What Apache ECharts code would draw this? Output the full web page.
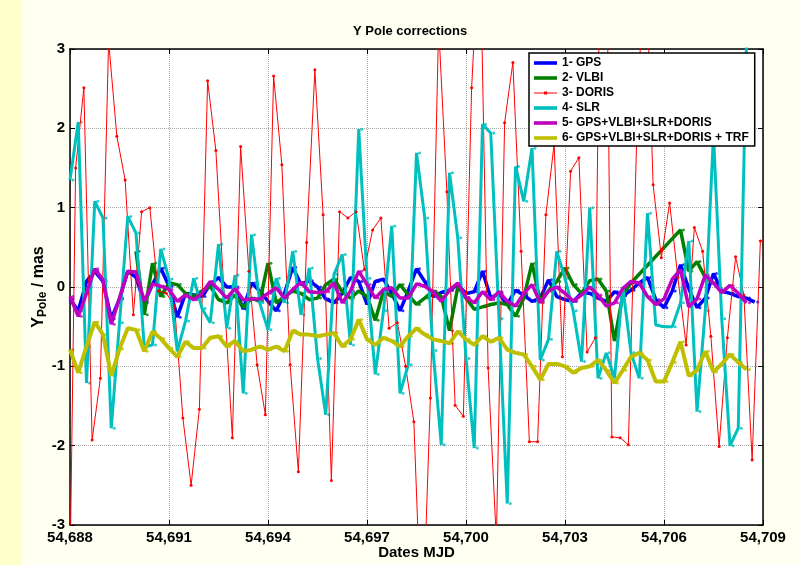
<!DOCTYPE html>
<html><head><meta charset="utf-8">
<script src="https://cdn.jsdelivr.net/npm/echarts@6/dist/echarts.min.js"></script>
<style>
html,body{margin:0;padding:0;width:800px;height:565px;overflow:hidden;}
body{background:linear-gradient(to right,#FFFFCC 0,#FFFFCC 22px,#FFFFF2 22px,#FFFFF2 100%);}
#c{width:800px;height:565px;}
</style></head><body><div id="c"></div>
<script>
// ---- data ----
const MJD0 = 54688;           // first date on the axis
const MJD1 = 54709;           // last date on the axis
const STEP = 0.25;            // 6-hour sampling of the series below
const xTickStep = 3;
const yMin = -3, yMax = 3, yStep = 1;
const seriesNames = ['1- GPS','2- VLBI','3- DORIS','4- SLR','5- GPS+VLBI+SLR+DORIS','6- GPS+VLBI+SLR+DORIS + TRF'];

const gps = [-0.15,-0.30,0.07,0.20,0.07,-0.40,-0.15,0.20,0.12,-0.20,0.03,0.24,0.01,-0.38,-0.08,-0.10,-0.12,0.03,0.12,0.00,0.00,-0.28,
 0.05,-0.05,-0.18,-0.30,-0.08,0.25,0.03,0.08,0.00,-0.15,-0.20,-0.08,0.12,0.07,-0.22,0.07,0.10,-0.08,-0.30,-0.05,
 0.23,0.07,-0.12,-0.07,-0.04,0.03,-0.08,-0.06,0.20,-0.14,-0.08,-0.22,-0.04,-0.10,-0.18,-0.14,0.09,-0.12,-0.16,-0.18,
 -0.08,-0.08,-0.14,-0.18,-0.06,-0.11,-0.04,0.05,0.12,-0.16,-0.26,-0.05,0.28,-0.02,-0.26,-0.14,0.17,-0.05,-0.08,-0.12,-0.14,-0.19];

const vlbi = [null,null,null,null,null,null,null,null,0.45,-0.35,0.30,-0.12,0.05,0.03,-0.08,-0.12,-0.05,0.01,-0.16,-0.20,-0.10,-0.26,
 -0.14,-0.18,0.30,-0.20,-0.12,-0.05,-0.08,-0.16,-0.14,0.03,0.10,-0.06,-0.14,-0.05,-0.12,-0.42,-0.05,-0.12,0.03,-0.10,
 -0.22,-0.14,-0.05,-0.12,-0.55,0.00,-0.14,-0.28,-0.25,-0.22,-0.20,-0.22,-0.37,-0.14,0.30,-0.18,-0.05,0.07,0.24,0.03,
 -0.08,0.08,0.10,-0.05,-0.68,-0.10,0.05,null,null,null,null,null,0.72,0.20,0.32,0.12,0.05,null,null,null,null,null];

const slr = [1.35,2.08,-1.21,1.08,0.87,-1.78,-0.45,0.89,0.68,-0.75,-0.73,0.48,0.10,-0.81,-0.43,0.11,-0.27,-0.45,0.54,-0.52,0.15,-1.34,
 0.66,-0.20,-0.54,0.11,-0.20,0.45,-0.35,0.24,-0.90,-1.61,0.16,0.41,-0.73,1.99,0.11,-1.10,-0.30,0.77,-1.34,-0.98,
 1.69,0.87,-0.80,-1.99,1.44,0.62,-0.90,-2.03,2.05,1.94,-0.40,-2.73,1.52,1.08,1.75,-0.92,-0.66,0.45,0.11,-0.30,
 -0.94,1.00,-1.15,-0.83,-1.15,0.00,-0.83,-1.15,0.93,-0.48,-0.50,-0.50,-0.20,0.58,-1.57,-0.30,1.92,-0.40,-2.00,-1.78,3.10,null];

const combined = [-0.12,-0.37,-0.08,0.23,0.09,-0.47,-0.14,0.20,0.19,-0.18,0.04,0.01,-0.03,-0.18,-0.10,-0.16,-0.08,0.07,-0.03,-0.14,-0.02,-0.16,
 -0.15,-0.15,-0.08,-0.01,-0.14,-0.03,0.06,-0.06,-0.07,-0.06,0.05,-0.20,-0.05,0.20,0.03,-0.14,-0.03,-0.01,-0.14,-0.14,
 0.04,0.01,-0.06,-0.18,-0.04,0.05,-0.13,-0.20,-0.06,-0.16,-0.06,-0.18,-0.24,-0.08,0.03,-0.20,-0.05,0.00,-0.08,-0.18,
 -0.10,0.00,-0.10,-0.24,-0.20,-0.02,0.07,0.05,-0.12,-0.22,-0.15,0.10,0.22,-0.25,-0.15,0.15,0.05,-0.07,0.02,-0.08,-0.20,null];

const trf = [-0.79,-1.08,-0.75,-0.44,-0.60,-1.12,-0.78,-0.52,-0.54,-0.81,-0.56,-0.65,-0.77,-0.88,-0.69,-0.77,-0.77,-0.64,-0.62,-0.75,-0.68,-0.81,
 -0.79,-0.75,-0.79,-0.75,-0.81,-0.55,-0.60,-0.60,-0.62,-0.60,-0.58,-0.75,-0.66,-0.41,-0.66,-0.73,-0.64,-0.68,-0.75,-0.62,
 -0.52,-0.60,-0.66,-0.68,-0.71,-0.56,-0.66,-0.73,-0.62,-0.69,-0.64,-0.79,-0.83,-0.85,-1.00,-1.17,-0.97,-0.97,-1.00,-1.08,
 -1.02,-1.00,-0.92,-1.05,-1.21,-1.05,-0.88,-0.83,-0.92,-1.19,-1.19,-0.95,-0.69,-1.12,-1.05,-0.81,-1.07,-0.97,-0.85,-0.95,-1.04,null];

// DORIS has its own epochs (MJD) and values
const dorisMJD = [54687.92,54688.17,54688.42,54688.67,54688.92,54689.17,54689.42,54689.67,54689.92,54690.17,54690.42,54690.67,54690.92,54691.17,
 54691.42,54691.67,54691.92,54692.17,54692.42,54692.92,54693.17,54693.42,54693.67,54693.92,54694.17,54694.42,54694.67,54694.92,
 54695.17,54695.42,54695.67,54695.92,54696.17,54696.42,54696.67,54696.92,54697.17,54697.42,54697.67,54697.92,54698.17,54698.42,
 54698.67,54698.92,54699.17,54699.42,54699.67,54699.92,54700.17,54700.42,54700.67,54700.92,54701.17,54701.42,54701.67,54701.92,
 54702.17,54702.42,54702.67,54702.92,54703.17,54703.42,54703.67,54703.92,54704.17,54704.42,54704.67,54704.92,54705.17,54705.42,
 54705.67,54705.92,54706.17,54706.42,54706.67,54706.92,54707.17,54707.42,54707.67,54707.92,54708.17,54708.42,54708.67,54708.92,54709.17];
const doris = [-6.0,1.50,2.51,-1.93,-1.15,3.10,1.90,1.35,-0.35,0.95,1.00,-0.05,-0.08,-0.24,
 -1.65,-2.50,-1.54,2.60,1.72,-1.90,1.77,0.20,-0.98,-1.61,2.66,1.54,-0.98,-2.33,
 0.56,2.74,0.91,-2.44,0.95,0.87,0.95,0.22,0.72,0.87,-0.52,-0.45,-1.00,-1.70,
 -4.50,-1.40,3.30,1.20,-1.49,-1.63,2.51,4.50,-1.02,-3.20,2.07,2.83,0.45,-1.95,
 -1.95,0.91,1.80,-0.88,1.46,1.63,-0.82,-0.64,8.00,-1.89,-1.90,-1.99,1.83,4.50,
 1.29,0.37,1.06,0.12,-0.73,0.75,0.45,-0.62,-2.01,-0.64,0.38,-0.10,-2.18,0.58,0.60];

// ---- chart ----
const FONT = '"Liberation Sans", Arial, Helvetica, sans-serif';
const DOT_SHIFT = 0.09;
function onGrid(vals){ const out=[]; vals.forEach((v,i)=>{ if(v!==null) out.push([i*STEP, v]); }); return out; }
function dotsOf(vals){ const out=[]; vals.forEach((v,i)=>{ if(v!==null) out.push([i*STEP+DOT_SHIFT, v]); }); return out; }
function withComma(n){ return String(n).replace(/\B(?=(\d{3})+(?!\d))/g, ','); }

const colors = ['#0000FF','#008000','#FF0000','#00BFBF','#BF00BF','#BFBF00'];
const widths = [3.5,3.5,1,3,3.5,4];
const gridSets = [gps, vlbi, null, slr, combined, trf];

const series = [];
gridSets.forEach((vals,k)=>{
  if(!vals) return;
  series.push({name:'dots'+k, type:'scatter', data:dotsOf(vals), symbolSize:3, itemStyle:{color:colors[k]}, silent:true, z:1});
});
gridSets.forEach((vals,k)=>{
  if(k===2){
    series.push({name:seriesNames[2], type:'line', data:dorisMJD.map((t,j)=>[t-MJD0, doris[j]]),
      symbol:'circle', symbolSize:3, showSymbol:true, showAllSymbol:true,
      lineStyle:{color:colors[2], width:1}, itemStyle:{color:colors[2]}, clip:true, z:3});
    return;
  }
  series.push({name:seriesNames[k], type:'line', data:onGrid(vals), symbol:'none',
    lineStyle:{color:colors[k], width:widths[k]}, itemStyle:{color:colors[k]}, clip:true, z:3});
});

// legend glyphs: a 23x12 box holding a horizontal bar (and a dot for DORIS)
const ICON_THICK = 'path://M0,0M23,12M0,4.2H23V7.8H0Z';
const ICON_DORIS = 'path://M0,0M23,12M0,5.5H23V6.5H0Z M10,4.5H13V7.5H10Z';

const axisLineStyle = {color:'#000', width:1.5};
const tickStyle = {show:true, inside:true, length:5, lineStyle:{color:'#000', width:1}};
const gridLine = {show:true, lineStyle:{type:'dotted', color:'#a8a8a8', width:1}};
const labelStyle = {fontFamily:FONT, fontWeight:'bold', fontSize:15, color:'#000'};

const option = {
  animation:false,
  backgroundColor:'transparent',
  textStyle:{fontFamily:FONT},
  title:{text:'Y Pole corrections', left:353, top:25, padding:0,
    textStyle:{fontFamily:FONT, fontSize:13, fontWeight:'bold', color:'#000'}},
  grid:{left:70, right:37, top:49, bottom:40, show:true, backgroundColor:'#fff', borderWidth:0,
    containLabel:false, outerBoundsMode:'none'},
  legend:{orient:'vertical', left:529, top:53, padding:[4,6,2,5], itemGap:3, itemWidth:23, itemHeight:12,
    backgroundColor:'#fff', borderColor:'#000', borderWidth:1.5, borderRadius:0,
    textStyle:{fontFamily:FONT, fontSize:12, fontWeight:'bold', color:'#000'},
    data: seriesNames.map((n,k)=>({name:n, icon: k===2 ? ICON_DORIS : ICON_THICK,
      itemStyle:{color:colors[k], borderWidth:0}}))},
  xAxis:[
    {type:'value', min:0, max:MJD1-MJD0, interval:xTickStep, position:'bottom',
     axisLine:{show:true, onZero:false, lineStyle:axisLineStyle}, axisTick:tickStyle,
     axisLabel:Object.assign({margin:5, formatter:v=>withComma(MJD0+v)}, labelStyle),
     splitLine:gridLine,
     name:'Dates MJD', nameLocation:'middle', nameGap:20, nameMoveOverlap:false,
     nameTextStyle:{fontFamily:FONT, fontWeight:'bold', fontSize:15, color:'#000', verticalAlign:'top'}},
    {type:'value', min:0, max:MJD1-MJD0, interval:xTickStep, position:'top',
     axisLine:{show:true, onZero:false, lineStyle:axisLineStyle}, axisTick:tickStyle,
     axisLabel:{show:false}, splitLine:{show:false}}
  ],
  yAxis:[
    {type:'value', min:yMin, max:yMax, interval:yStep, position:'left',
     axisLine:{show:true, onZero:false, lineStyle:axisLineStyle}, axisTick:tickStyle,
     axisLabel:Object.assign({margin:5}, labelStyle), splitLine:gridLine,
     name:'{y|Y}{s|Pole}{y| / mas}', nameLocation:'middle', nameRotate:90, nameGap:21, nameMoveOverlap:false,
     nameTextStyle:{rich:{
       y:{fontFamily:FONT, fontWeight:'bold', fontSize:16, color:'#000', lineHeight:18, verticalAlign:'top'},
       s:{fontFamily:FONT, fontWeight:'bold', fontSize:12, color:'#000', lineHeight:13, verticalAlign:'bottom', padding:[11,0,0,0]}
     }}},
    {type:'value', min:yMin, max:yMax, interval:yStep, position:'right',
     axisLine:{show:true, onZero:false, lineStyle:axisLineStyle}, axisTick:tickStyle,
     axisLabel:{show:false}, splitLine:{show:false}}
  ],
  series: series
};
const chart = echarts.init(document.getElementById('c'), null, {renderer:'canvas'});
chart.setOption(option);
</script></body></html>
